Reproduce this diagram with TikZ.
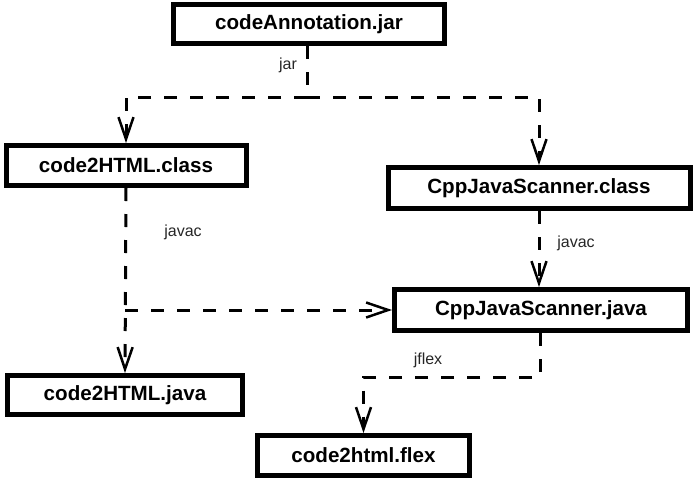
\documentclass[tikz,border=0pt]{standalone}
\usepackage{fontspec}
\setmainfont{Liberation Sans}
\usetikzlibrary{arrows.meta}
\begin{document}
\begin{tikzpicture}[x=1pt,y=-1pt,
  box/.style n args={2}{draw, line width=5pt, fill=white, inner sep=0pt,
    font=\fontsize{20.6}{24}\selectfont\bfseries,
    minimum width=#1pt, minimum height=#2pt},
  dline/.style={line width=3pt, dash pattern=on 13pt off 13pt},
  >={Straight Barb[length=22pt,width=15pt,line width=2.5pt]},
  lbl/.style={font=\fontsize{16}{18}\selectfont, text=black!85}]
\useasboundingbox (0,0) rectangle (694,480);

\node[box={271}{39}] (ann) at (309,24) {codeAnnotation.jar};
\node[box={240}{40}] (c2hclass) at (126,165.5) {code2HTML.class};
\node[box={302}{41}] (cppclass) at (539,188) {CppJavaScanner.class};
\node[box={293}{41}] (cppjava) at (541,310) {CppJavaScanner.java};
\node[box={235}{39}] (c2hjava) at (125,395) {code2HTML.java};
\node[box={212}{40}] (flex) at (363.5,455.5) {code2html.flex};

\coordinate (j) at (307,97);
\coordinate (b) at (125,310);
\coordinate (k) at (540,377);

\draw[dline] (ann.south -| j) -- (j);
\draw[dline,->] (j) -| (c2hclass.north);
\draw[dline,->] (j) -| (cppclass.north);
\draw[dline,->] (c2hclass.south) -- (c2hjava.north);
\draw[dline,->] (b) -- (cppjava.west);
\draw[dline,->] (cppclass.south) -- (cppjava.north -| cppclass.south);
\draw[dline,->] (cppjava.south -| k) -- (k) -| (flex.north);

\node[lbl] (l1) at (288,65) {jar};
\node[lbl] (l2) at (183,232) {javac};
\node[lbl] (l3) at (576,243) {javac};
\node[lbl] (l4) at (428,360) {jflex};
\end{tikzpicture}
\end{document}
